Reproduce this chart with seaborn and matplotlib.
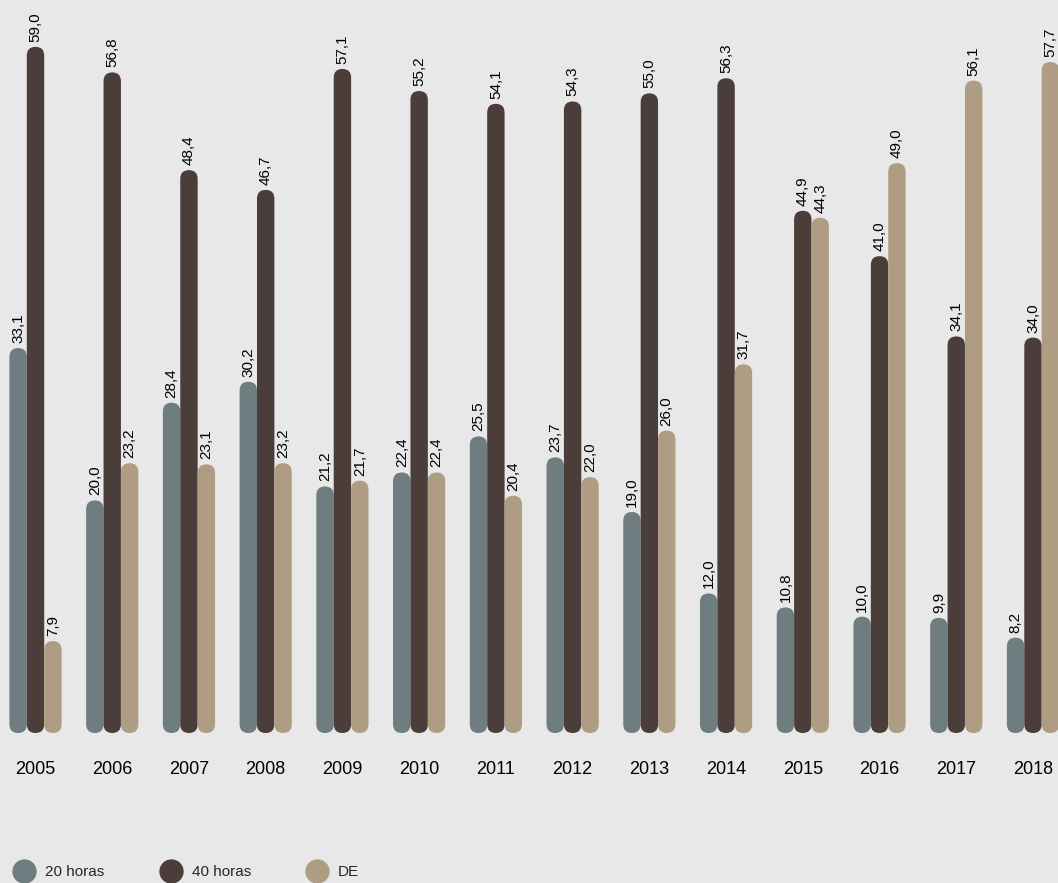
import pandas as pd
import seaborn as sns
import matplotlib.pyplot as plt
from matplotlib.patches import FancyBboxPatch
from matplotlib.lines import Line2D

anos = ['2005', '2006', '2007', '2008', '2009', '2010', '2011',
        '2012', '2013', '2014', '2015', '2016', '2017', '2018']
horas20 = [33.1, 20.0, 28.4, 30.2, 21.2, 22.4, 25.5, 23.7, 19.0, 12.0, 10.8, 10.0, 9.9, 8.2]
horas40 = [59.0, 56.8, 48.4, 46.7, 57.1, 55.2, 54.1, 54.3, 55.0, 56.3, 44.9, 41.0, 34.1, 34.0]
de = [7.9, 23.2, 23.1, 23.2, 21.7, 22.4, 20.4, 22.0, 26.0, 31.7, 44.3, 49.0, 56.1, 57.7]
series = ['20 horas', '40 horas', 'DE']
cores = ['#6f7c80', '#4a3d3a', '#ae9c83']

df = pd.DataFrame({'ano': anos, '20 horas': horas20, '40 horas': horas40, 'DE': de})
df = df.melt(id_vars='ano', var_name='serie', value_name='valor')

sns.set_theme(style='white')
plt.rcParams['font.family'] = ['Liberation Sans', 'DejaVu Sans']

bg = '#e8e8e8'
W, H = 1058, 883
fig = plt.figure(figsize=(W / 100, H / 100), dpi=100, facecolor=bg)
ax = fig.add_axes([0, 150 / H, 1, 733 / H])
ax.set_facecolor('none')

sns.barplot(data=df, x='ano', y='valor', hue='serie', hue_order=series,
            palette=cores, width=0.68, saturation=1, errorbar=None,
            linewidth=0, legend=False, ax=ax)

passo = 76.73  # px per category
ppu = 11.63    # px per unit
ax.set_xlim(-35.5 / passo, (W - 35.5) / passo)
ax.set_ylim(0, 733 / ppu)
aspect = passo / ppu

# rounded "pill" bars
for p in list(ax.patches):
    x, w, h = p.get_x(), p.get_width(), p.get_height()
    cor = p.get_facecolor()
    p.remove()
    ax.add_patch(FancyBboxPatch((x, 0), w, h,
                                boxstyle=f'round,pad=0,rounding_size={w / 2}',
                                mutation_aspect=aspect, facecolor=cor,
                                edgecolor='none', clip_on=False))
    ax.text(x + w / 2, h + 5 / ppu, f'{h:.1f}'.replace('.', ','),
            rotation=90, ha='center', va='bottom', fontsize=11,
            color='black', clip_on=False)

ax.tick_params(axis='x', length=0, pad=20, labelsize=13, labelcolor='black')
ax.set_yticks([])
ax.set_xlabel('')
ax.set_ylabel('')
sns.despine(ax=ax, left=True, bottom=True)

handles = [Line2D([], [], marker='o', linestyle='', markersize=16.5,
                  color=c) for c in cores]
fig.legend(handles, series, loc='center left', bbox_to_anchor=(12.5 / W, 11 / H),
           ncol=3, frameon=False, fontsize=11, handlelength=1.5,
           handletextpad=0.62, columnspacing=3.6, borderpad=0, borderaxespad=0)

fig.savefig('out.png', dpi=100, facecolor=bg)
